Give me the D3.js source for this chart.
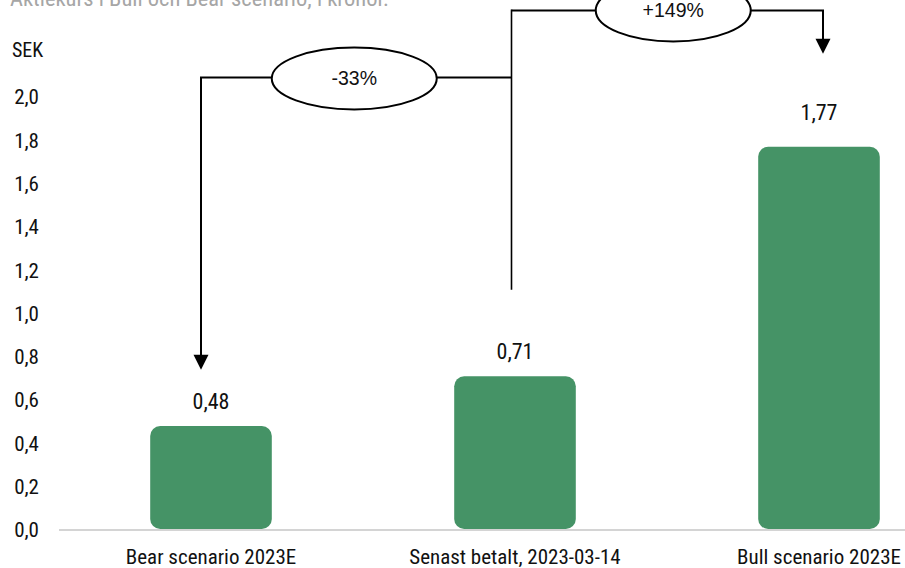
<!DOCTYPE html>
<html><head><meta charset="utf-8">
<script src="https://cdn.jsdelivr.net/npm/d3@7"></script>
<style>
body{margin:0;background:#fff;}
svg{display:block;}
text{font-family:"Liberation Sans Narrow","Roboto Condensed","Arial Narrow",sans-serif;}
text.wide{font-family:"Liberation Sans",Arial,sans-serif;}
</style></head>
<body><svg id="c" width="905" height="568"></svg>
<script>
const title = "Aktiekurs i Bull och Bear scenario, i kronor.";
const unitLabel = "SEK";
const categories = ["Bear scenario 2023E", "Senast betalt, 2023-03-14", "Bull scenario 2023E"];
const values = [0.48, 0.71, 1.77];
const valueLabels = ["0,48", "0,71", "1,77"];
const yTicks = [0, 0.2, 0.4, 0.6, 0.8, 1.0, 1.2, 1.4, 1.6, 1.8, 2.0];
const changeLabels = ["-33%", "+149%"];
// annotation levels (in SEK units)
const bearLineLevel = 2.09, bearArrowTip = 0.74;
const bullLineLevel = 2.40, bullArrowTip = 2.20, midLineBottom = 1.11;

const svg = d3.select("#c");
const x = d3.scaleBand().domain(categories).range([59, 971]).paddingInner(0.6).paddingOuter(0.3);
const y = d3.scaleLinear().domain([0, 2.0]).range([530, 97]);
const fmt = d => d3.format(".1f")(d).replace(".", ",");

svg.append("text").attr("x", 10).attr("y", 6).attr("fill", "#a6a6a6")
  .attr("font-size", 22.5).text(title);
svg.append("text").attr("x", 12).attr("y", 57).attr("fill", "#111")
  .attr("font-size", 20).text(unitLabel);

// y tick labels
svg.append("g").selectAll("text").data(yTicks).join("text")
  .attr("x", 39).attr("y", d => y(d)).attr("dy", "0.35em")
  .attr("text-anchor", "end").attr("font-size", 21).attr("fill", "#111")
  .text(fmt);

// axis line
svg.append("line").attr("x1", 59).attr("x2", 905).attr("y1", y(0)).attr("y2", y(0))
  .attr("stroke", "#d4d4d4").attr("stroke-width", 2);

// bars
svg.append("g").selectAll("rect").data(values).join("rect")
  .attr("x", (d, i) => x(categories[i]))
  .attr("y", d => y(d))
  .attr("width", x.bandwidth())
  .attr("height", d => y(0) - y(d) - 1)
  .attr("rx", 10).attr("ry", 10)
  .attr("fill", "#459366");

const gaps = [17, 17, 27];
svg.append("g").selectAll("text").data(values).join("text")
  .attr("x", (d, i) => x(categories[i]) + x.bandwidth() / 2)
  .attr("y", (d, i) => y(d) - gaps[i])
  .attr("text-anchor", "middle").attr("font-size", 22).attr("fill", "#111")
  .text((d, i) => valueLabels[i]);

// category labels
svg.append("g").selectAll("text").data(categories).join("text")
  .attr("x", d => x(d) + x.bandwidth() / 2)
  .attr("y", 564)
  .attr("text-anchor", "middle").attr("font-size", 21).attr("fill", "#111")
  .text(d => d);

// annotations
const cx = i => x(categories[i]) + x.bandwidth() / 2;
const xBear = cx(0) - 10, xMid = cx(1) - 3.5, xBull = cx(2) + 4;
const ag = svg.append("g").attr("fill", "none").attr("stroke", "#000").attr("stroke-width", 2);
// middle vertical
ag.append("line").attr("x1", xMid).attr("x2", xMid).attr("y1", y(bullLineLevel) - 1).attr("y2", y(midLineBottom))
  .attr("stroke-width", 1.6);
// bear path
ag.append("path").attr("d", `M${xMid},${y(bearLineLevel)}H${xBear}V${y(bearArrowTip) - 14}`);
ag.append("path").attr("fill", "#000").attr("stroke", "none")
  .attr("d", `M${xBear - 7.5},${y(bearArrowTip) - 15}H${xBear + 7.5}L${xBear},${y(bearArrowTip)}Z`);
// bull path
ag.append("path").attr("d", `M${xMid},${y(bullLineLevel)}H${xBull}V${y(bullArrowTip) - 14}`);
ag.append("path").attr("fill", "#000").attr("stroke", "none")
  .attr("d", `M${xBull - 7.5},${y(bullArrowTip) - 15}H${xBull + 7.5}L${xBull},${y(bullArrowTip)}Z`);

// ellipses
const ell = [
  {cx: (xBear + xMid) / 2 - 2, cy: y(bearLineLevel) + 1, rx: 82.5, ry: 31, t: changeLabels[0]},
  {cx: (xMid + xBull) / 2 + 6, cy: y(bullLineLevel), rx: 77.5, ry: 31, t: changeLabels[1]}
];
ell.forEach(e => {
  svg.append("ellipse").attr("cx", e.cx).attr("cy", e.cy).attr("rx", e.rx).attr("ry", e.ry)
    .attr("fill", "#fff").attr("stroke", "#000").attr("stroke-width", 2);
  svg.append("text").attr("class", "wide").attr("x", e.cx).attr("y", e.cy).attr("dy", "0.35em")
    .attr("text-anchor", "middle").attr("font-size", 19.5).attr("fill", "#111").text(e.t);
});
</script></body></html>
